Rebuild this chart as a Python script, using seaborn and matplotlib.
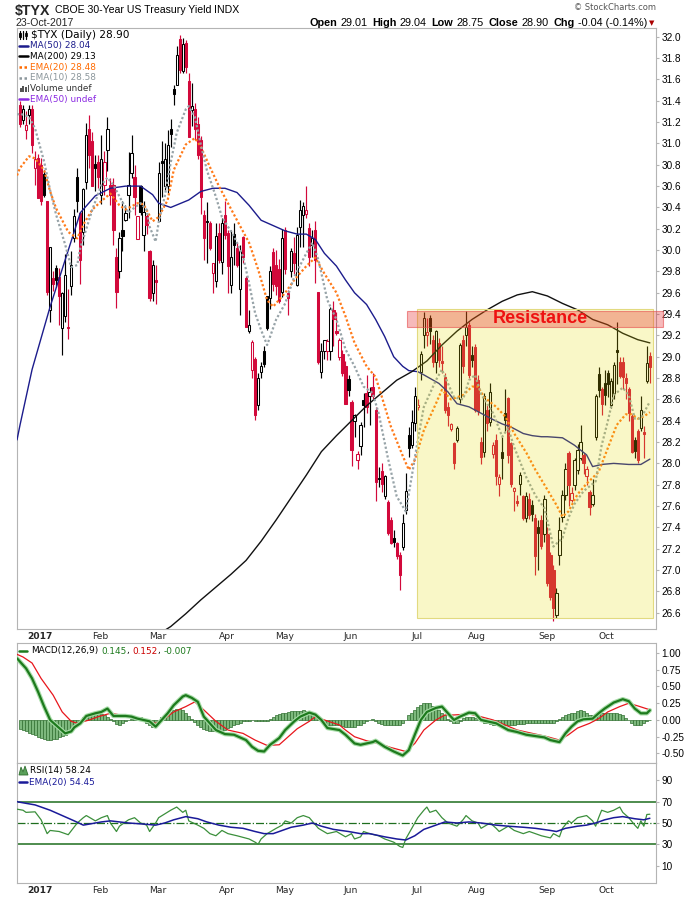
import numpy as np
import pandas as pd
import matplotlib
matplotlib.use("Agg")
import matplotlib.pyplot as plt
from matplotlib.lines import Line2D
from matplotlib.patches import Rectangle, Polygon
import seaborn as sns

# ---------------- data ----------------
holidays = ['2016-12-26', '2017-01-02', '2017-01-16', '2017-02-20', '2017-04-14',
            '2017-05-29', '2017-07-04', '2017-09-04']
dates = pd.bdate_range('2016-12-22', '2017-10-23', freq='C', holidays=holidays)

opens = [31.36, 31.22, 31.13, 31.27, 31.32, 30.77, 30.86, 30.80, 30.71, 30.46,
         29.44, 29.74, 29.83, 29.75, 29.27, 29.38, 29.28, 29.66, 30.11, 30.69,
         30.35, 30.17, 30.64, 31.14, 31.02, 30.81, 30.83, 30.52, 30.61, 30.94,
         30.61, 30.61, 29.94, 29.80, 30.19, 30.28, 30.52, 30.72, 30.69, 30.10,
         30.60, 30.14, 30.32, 29.99, 29.60, 29.72, 30.27, 30.83, 30.60, 30.60,
         31.14, 31.51, 31.55, 31.98, 31.68, 31.94, 31.59, 31.31, 31.32, 31.18,
         31.03, 30.33, 30.27, 30.25, 29.79, 29.71, 30.16, 29.89, 30.33, 30.16,
         29.67, 30.15, 30.02, 29.64, 30.12, 29.74, 29.24, 28.88, 28.98, 28.55,
         28.86, 29.05, 29.57, 29.55, 29.98, 29.86, 29.82, 29.61, 30.19, 29.60,
         29.80, 29.97, 29.67, 30.22, 30.33, 30.34, 30.21, 30.05, 30.19, 29.61,
         28.86, 29.05, 29.05, 29.05, 29.44, 29.24, 29.00, 29.03, 28.91, 28.79,
         28.58, 28.40, 28.03, 28.16, 28.59, 28.66, 28.63, 28.72, 28.50, 27.86,
         27.93, 27.69, 27.64, 27.47, 27.30, 27.25, 27.14, 27.22, 27.56, 28.27,
         28.17, 28.38, 28.53, 28.86, 29.20, 29.20, 29.36, 29.16, 28.95, 29.13,
         28.96, 28.81, 28.53, 28.32, 28.19, 28.22, 28.60, 29.16, 29.20, 29.30,
         29.02, 29.09, 28.78, 28.20, 28.11, 28.50, 28.39, 28.09, 28.22, 27.81,
         28.11, 28.47, 28.61, 28.19, 27.74, 27.65, 27.81, 27.69, 27.49, 27.67,
         27.61, 27.49, 27.40, 27.47, 27.34, 27.34, 27.14, 27.00, 26.58, 27.14,
         27.50, 27.70, 28.10, 27.66, 27.80, 27.94, 28.05, 28.08, 27.88, 27.73,
         27.62, 28.25, 28.84, 28.70, 28.75, 28.85, 28.55, 28.66, 29.06, 28.95,
         28.95, 28.80, 28.70, 28.44, 28.22, 28.30, 28.33, 28.29, 28.77, 29.01]
highs = [31.40, 31.36, 31.30, 31.36, 31.36, 30.93, 30.90, 30.86, 30.75, 30.46,
         30.03, 29.80, 29.86, 29.83, 29.61, 29.96, 29.64, 29.99, 30.39, 30.77,
         30.36, 30.58, 31.19, 31.27, 31.11, 30.89, 30.89, 31.08, 30.93, 31.25,
         30.68, 30.68, 30.02, 30.17, 30.46, 30.42, 30.92, 31.08, 30.80, 30.32,
         30.61, 30.46, 30.34, 30.00, 29.91, 29.86, 30.83, 31.02, 31.00, 31.13,
         31.23, 31.55, 31.91, 32.02, 31.99, 31.97, 31.66, 31.57, 31.38, 31.25,
         31.07, 30.38, 30.45, 30.27, 29.88, 30.25, 30.25, 30.30, 30.46, 30.19,
         30.19, 30.25, 30.08, 30.05, 30.13, 29.76, 29.44, 29.16, 29.00, 28.85,
         28.95, 29.10, 29.57, 29.85, 30.02, 30.00, 29.92, 30.20, 30.22, 29.63,
         30.02, 30.12, 30.22, 30.47, 30.45, 30.60, 30.25, 30.19, 30.27, 29.61,
         29.13, 29.16, 29.17, 29.47, 29.52, 29.42, 29.18, 29.06, 28.96, 28.83,
         28.59, 28.46, 28.12, 28.39, 28.66, 28.83, 28.72, 28.85, 28.53, 27.97,
         28.00, 27.89, 27.66, 27.50, 27.38, 27.26, 27.17, 27.53, 27.91, 28.34,
         28.50, 28.72, 28.60, 29.05, 29.42, 29.36, 29.39, 29.20, 29.25, 29.18,
         29.10, 28.85, 28.58, 28.38, 28.20, 28.35, 29.13, 29.20, 29.43, 29.33,
         29.10, 29.12, 28.83, 28.25, 28.66, 28.55, 28.75, 28.20, 28.28, 27.90,
         28.25, 28.70, 28.62, 28.20, 27.78, 27.70, 27.92, 27.70, 27.73, 27.72,
         27.66, 27.53, 27.47, 27.52, 27.70, 27.40, 27.17, 27.05, 26.83, 27.50,
         27.75, 28.00, 28.12, 27.78, 28.05, 28.18, 28.36, 28.10, 27.98, 27.75,
         27.85, 28.65, 28.90, 28.72, 28.88, 28.88, 28.80, 28.95, 29.33, 29.00,
         29.00, 28.85, 28.72, 28.46, 28.25, 28.32, 28.63, 28.35, 29.10, 29.04]
lows = [31.15, 31.18, 31.04, 31.18, 30.91, 30.61, 30.49, 30.42, 30.50, 29.58,
        29.33, 29.62, 29.65, 29.30, 29.02, 29.33, 29.17, 29.58, 30.08, 30.36,
        29.68, 30.05, 30.57, 30.77, 30.60, 30.55, 30.58, 30.43, 30.52, 30.74,
        30.42, 30.05, 29.46, 29.74, 29.99, 30.27, 30.30, 30.68, 30.33, 30.10,
        30.33, 29.99, 30.15, 29.52, 29.52, 29.49, 30.27, 30.50, 30.56, 30.54,
        30.97, 31.36, 31.55, 31.66, 31.66, 31.66, 31.06, 31.16, 31.03, 30.85,
        30.34, 29.91, 29.88, 30.00, 29.60, 29.65, 29.88, 29.78, 30.10, 29.60,
        29.60, 29.86, 29.84, 29.39, 29.88, 29.28, 29.22, 28.80, 28.41, 28.50,
        28.80, 28.90, 29.25, 29.45, 29.62, 29.58, 29.50, 29.56, 29.78, 29.39,
        29.75, 29.78, 29.66, 30.03, 30.03, 30.30, 29.85, 29.94, 29.69, 28.93,
        28.80, 28.98, 28.97, 28.97, 29.10, 29.20, 28.97, 28.82, 28.56, 28.63,
        27.98, 28.25, 27.95, 28.08, 28.34, 28.47, 28.36, 28.60, 27.65, 27.78,
        27.73, 27.67, 27.33, 27.24, 27.22, 27.10, 26.81, 27.19, 27.53, 28.06,
        28.14, 28.30, 28.50, 28.78, 29.08, 29.10, 29.12, 28.90, 28.85, 28.90,
        28.85, 28.47, 28.35, 28.30, 27.95, 28.20, 28.57, 28.85, 29.10, 28.80,
        28.90, 28.48, 28.45, 27.99, 28.06, 28.30, 28.35, 28.05, 27.80, 27.69,
        27.85, 28.30, 28.00, 27.78, 27.55, 27.60, 27.70, 27.47, 27.45, 27.48,
        27.46, 26.95, 27.00, 27.20, 27.26, 26.85, 26.72, 26.52, 26.55, 27.05,
        27.45, 27.66, 27.60, 27.64, 27.75, 27.90, 28.03, 27.90, 27.80, 27.52,
        27.60, 28.22, 28.62, 28.45, 28.55, 28.62, 28.52, 28.60, 28.74, 28.80,
        28.70, 28.60, 28.40, 28.10, 28.05, 28.00, 28.30, 28.05, 28.75, 28.75]
closes = [31.18, 31.32, 31.17, 31.32, 30.99, 30.85, 30.49, 30.46, 30.52, 29.61,
          30.03, 29.68, 29.72, 29.57, 29.60, 29.77, 29.27, 29.86, 30.32, 30.46,
          29.91, 30.57, 31.08, 30.89, 30.60, 30.77, 30.69, 30.85, 30.83, 31.14,
          30.52, 30.19, 29.61, 30.11, 30.13, 30.35, 30.61, 30.91, 30.50, 30.32,
          30.36, 30.36, 30.24, 29.55, 29.86, 29.70, 30.72, 30.82, 30.85, 30.99,
          31.09, 31.46, 31.83, 31.69, 31.93, 31.72, 31.06, 31.35, 31.14, 30.89,
          30.50, 30.11, 30.26, 30.02, 29.88, 30.13, 29.91, 30.25, 30.14, 29.85,
          29.94, 30.05, 29.86, 29.99, 29.94, 29.28, 29.30, 29.14, 28.45, 28.80,
          28.91, 28.93, 29.27, 29.80, 29.68, 29.66, 29.52, 30.11, 29.82, 29.55,
          29.99, 29.88, 30.14, 30.38, 30.41, 30.38, 29.94, 30.11, 29.91, 28.95,
          29.05, 29.16, 29.15, 29.45, 29.35, 29.22, 29.16, 28.85, 28.56, 28.69,
          28.13, 28.45, 28.09, 28.36, 28.55, 28.53, 28.67, 28.63, 27.83, 27.85,
          27.81, 27.88, 27.35, 27.25, 27.26, 27.13, 26.95, 27.44, 27.74, 28.14,
          28.39, 28.63, 28.55, 29.03, 29.36, 29.23, 29.24, 28.95, 29.24, 28.97,
          28.94, 28.50, 28.45, 28.37, 28.00, 28.33, 29.11, 28.91, 29.28, 28.83,
          28.97, 28.50, 28.49, 28.06, 28.63, 28.38, 28.67, 28.17, 27.88, 27.87,
          28.05, 28.41, 28.08, 27.81, 27.77, 27.63, 27.89, 27.49, 27.69, 27.52,
          27.53, 27.13, 27.35, 27.23, 27.67, 26.88, 26.75, 26.64, 26.78, 27.38,
          27.70, 27.95, 27.80, 27.72, 28.03, 28.13, 28.20, 28.00, 27.95, 27.59,
          27.70, 28.63, 28.69, 28.56, 28.64, 28.74, 28.77, 28.92, 29.04, 28.82,
          28.81, 28.75, 28.47, 28.11, 28.12, 28.03, 28.50, 28.28, 28.94, 28.90]

# overlay lines, read at points (x = bar number)
ma50_idx = [-1, 0, 4, 10, 15, 20, 25, 30, 35, 40, 44, 46, 50, 56, 60, 64, 68, 72, 76, 80,
            84, 88, 92, 95, 98, 101, 105, 108, 111, 115, 118, 121, 124, 127, 129, 132,
            134, 139, 142, 145, 149, 153, 157, 160, 163, 167, 170, 173, 175, 180, 184,
            188, 190, 193, 197, 202, 206, 209]
ma50_val = [28.22, 28.36, 28.88, 29.47, 29.91, 30.35, 30.51, 30.58, 30.60, 30.60, 30.52,
            30.44, 30.40, 30.47, 30.55, 30.58, 30.58, 30.54, 30.42, 30.28, 30.23, 30.18,
            30.15, 30.15, 30.10, 29.97, 29.85, 29.72, 29.60, 29.49, 29.35, 29.19, 29.00,
            28.91, 28.87, 28.86, 28.83, 28.75, 28.67, 28.56, 28.53, 28.47, 28.41, 28.37,
            28.34, 28.28, 28.26, 28.25, 28.25, 28.24, 28.17, 28.08, 27.97, 27.99, 28.00,
            27.99, 27.99, 28.04]
ma200_idx = [45, 50, 55, 60, 65, 70, 75, 80, 85, 90, 95, 100, 105, 110, 115, 120, 125,
             130, 135, 140, 145, 150, 155, 160, 165, 170, 175, 180, 185, 190, 195, 200,
             205, 209]
ma200_val = [26.38, 26.47, 26.59, 26.72, 26.84, 26.96, 27.09, 27.27, 27.47, 27.68, 27.89,
             28.11, 28.26, 28.40, 28.54, 28.66, 28.78, 28.86, 28.96, 29.11, 29.24, 29.35,
             29.44, 29.52, 29.58, 29.61, 29.57, 29.50, 29.44, 29.35, 29.30, 29.22, 29.16,
             29.13]
ema20_idx = [-1, 0, 3, 5, 8, 10, 12, 16, 19, 21, 24, 27, 30, 33, 35, 39, 41, 44, 46, 49,
             51, 55, 58, 60, 63, 66, 69, 72, 76, 79, 82, 84, 88, 91, 95, 98, 101, 105, 108,
             111, 115, 118, 120, 123, 127, 129, 131, 134, 138, 140, 143, 147, 150, 152,
             154, 158, 161, 164, 168, 171, 174, 178, 180, 182, 185, 188, 192, 195, 198,
             201, 203, 205, 207, 209]
ema20_val = [30.70, 30.77, 30.88, 30.86, 30.75, 30.55, 30.39, 30.17, 30.11, 30.24, 30.38,
             30.46, 30.53, 30.42, 30.38, 30.44, 30.43, 30.27, 30.31, 30.47, 30.75, 30.99,
             31.05, 30.97, 30.78, 30.60, 30.44, 30.28, 30.07, 29.82, 29.53, 29.47, 29.60,
             29.72, 29.85, 29.93, 29.78, 29.60, 29.38, 29.13, 28.91, 28.81, 28.63, 28.35,
             28.07, 27.94, 28.03, 28.31, 28.56, 28.69, 28.60, 28.64, 28.72, 28.72, 28.62,
             28.53, 28.44, 28.28, 28.10, 27.94, 27.80, 27.61, 27.50, 27.55, 27.71, 27.81,
             27.92, 28.14, 28.36, 28.46, 28.46, 28.42, 28.44, 28.48]
ema10_idx = [-1, 0, 3, 5, 8, 10, 12, 15, 17, 19, 20, 24, 27, 29, 31, 34, 36, 38, 40, 42,
             43, 45, 46, 48, 50, 52, 55, 56, 58, 60, 62, 65, 67, 69, 71, 74, 76, 78, 80,
             82, 85, 88, 91, 95, 97, 99, 102, 105, 108, 111, 114, 117, 119, 122, 125, 128,
             130, 132, 134, 138, 140, 142, 144, 147, 149, 151, 153, 157, 160, 162, 164,
             168, 171, 174, 177, 180, 182, 184, 187, 191, 193, 195, 197, 200, 202, 204,
             206, 209]
ema10_val = [31.27, 31.28, 31.25, 31.14, 30.83, 30.56, 30.33, 30.05, 29.84, 29.86, 30.02,
             30.38, 30.61, 30.68, 30.61, 30.45, 30.35, 30.40, 30.44, 30.38, 30.22, 30.08,
             30.26, 30.50, 30.82, 31.10, 31.32, 31.35, 31.25, 30.99, 30.75, 30.50, 30.31,
             30.22, 30.13, 29.94, 29.69, 29.41, 29.25, 29.11, 29.35, 29.50, 29.75, 29.97,
             30.07, 29.91, 29.53, 29.35, 29.07, 28.91, 28.72, 28.66, 28.47, 28.06, 27.69,
             27.55, 27.88, 28.22, 28.53, 28.78, 28.88, 28.75, 28.62, 28.60, 28.78, 28.83,
             28.65, 28.47, 28.25, 28.33, 28.15, 27.87, 27.70, 27.58, 27.22, 27.30, 27.49,
             27.62, 27.74, 27.83, 28.17, 28.39, 28.64, 28.71, 28.64, 28.42, 28.42, 28.58]

# MACD(12,26,9)
macd_idx = [-1, 2, 4, 6, 8, 10, 13, 15, 17, 18, 20, 22, 25, 27, 29, 31, 35, 37, 39, 43,
            45, 47, 49, 51, 54, 55, 57, 59, 61, 65, 68, 71, 75, 77, 79, 81, 83, 86, 88, 91,
            93, 96, 98, 100, 102, 106, 108, 111, 113, 117, 118, 121, 124, 127, 129, 131,
            133, 135, 138, 140, 142, 144, 146, 149, 151, 153, 155, 158, 160, 162, 165, 168,
            171, 174, 176, 179, 181, 183, 185, 187, 190, 192, 194, 197, 200, 202, 204, 206,
            208, 209]
macd_val = [0.92, 0.77, 0.62, 0.42, 0.20, 0.00, -0.12, -0.20, -0.17, -0.11, -0.05, 0.06,
            0.10, 0.12, 0.17, 0.06, 0.06, 0.05, 0.02, -0.02, -0.10, 0.00, 0.10, 0.22, 0.35,
            0.37, 0.33, 0.27, 0.05, -0.15, -0.21, -0.22, -0.30, -0.40, -0.46, -0.47, -0.37,
            -0.27, -0.15, -0.02, 0.05, 0.11, 0.08, 0.00, -0.12, -0.15, -0.22, -0.35, -0.37,
            -0.33, -0.31, -0.40, -0.47, -0.53, -0.45, -0.22, 0.00, 0.12, 0.18, 0.20, 0.10,
            0.00, 0.05, 0.11, 0.10, 0.00, -0.02, -0.05, -0.10, -0.15, -0.18, -0.22, -0.24,
            -0.26, -0.30, -0.33, -0.20, -0.10, -0.02, 0.01, 0.02, 0.10, 0.17, 0.26, 0.31,
            0.28, 0.17, 0.10, 0.10, 0.145]
sig_idx = [-1, 1, 4, 7, 11, 14, 17, 19, 23, 26, 30, 34, 37, 40, 45, 48, 51, 55, 58, 61,
           65, 69, 74, 78, 82, 86, 89, 92, 96, 98, 101, 106, 108, 111, 115, 119, 123, 128,
           131, 134, 138, 141, 144, 149, 152, 157, 161, 165, 171, 175, 179, 182, 185, 189,
           192, 195, 199, 202, 205, 209]
sig_val = [0.98, 0.94, 0.85, 0.62, 0.37, 0.12, -0.02, -0.05, 0.00, 0.05, 0.10, 0.07, 0.05,
           0.02, -0.05, 0.02, 0.12, 0.20, 0.27, 0.15, -0.02, -0.15, -0.20, -0.30, -0.38,
           -0.37, -0.25, -0.13, -0.02, 0.05, 0.00, -0.075, -0.15, -0.25, -0.31, -0.35, -0.41,
           -0.47, -0.35, -0.15, 0.00, 0.075, 0.075, 0.09, 0.06, 0.00, -0.075, -0.15, -0.21,
           -0.25, -0.30, -0.22, -0.12, -0.05, 0.02, 0.12, 0.20, 0.25, 0.21, 0.152]
hist = [-0.13, -0.15, -0.17, -0.19, -0.21, -0.23, -0.25, -0.27, -0.29, -0.30,
        -0.30, -0.29, -0.28, -0.26, -0.24, -0.22, -0.17, -0.12, -0.07, -0.03,
        0.00, 0.05, 0.08, 0.10, 0.11, 0.11, 0.11, 0.09, 0.07, 0.05,
        0.02, -0.02, -0.06, -0.07, -0.05, -0.02, 0.00, 0.02, 0.04, 0.05,
        0.04, 0.02, -0.04, -0.07, -0.10, -0.05, 0.00, 0.05, 0.08, 0.10,
        0.12, 0.15, 0.16, 0.17, 0.15, 0.10, 0.06, 0.02, -0.03, -0.07,
        -0.10, -0.13, -0.15, -0.16, -0.17, -0.17, -0.17, -0.16, -0.15, -0.12,
        -0.10, -0.08, -0.06, -0.04, -0.02, -0.01, -0.01, 0.00, -0.01, -0.01,
        -0.01, -0.02, -0.02, 0.01, 0.05, 0.07, 0.09, 0.10, 0.11, 0.12,
        0.13, 0.13, 0.13, 0.14, 0.15, 0.14, 0.12, 0.09, 0.05, 0.01,
        -0.02, -0.04, -0.07, -0.08, -0.08, -0.07, -0.07, -0.09, -0.11, -0.11,
        -0.10, -0.10, -0.08, -0.07, -0.05, -0.02, 0.00, 0.01, -0.02, -0.05,
        -0.06, -0.07, -0.08, -0.08, -0.08, -0.08, -0.07, -0.05, 0.00, 0.07,
        0.11, 0.15, 0.19, 0.22, 0.25, 0.25, 0.25, 0.21, 0.18, 0.15,
        0.10, 0.07, 0.02, -0.02, -0.05, -0.04, -0.02, 0.03, 0.05, 0.05,
        0.04, 0.03, 0.00, -0.02, -0.04, -0.05, -0.06, -0.07, -0.07, -0.07,
        -0.08, -0.08, -0.08, -0.07, -0.07, -0.06, -0.06, -0.06, -0.05, -0.05,
        -0.05, -0.05, -0.04, -0.04, -0.04, -0.04, -0.04, -0.05, -0.02, 0.01,
        0.04, 0.07, 0.09, 0.10, 0.11, 0.13, 0.15, 0.13, 0.11, 0.08,
        0.07, 0.09, 0.10, 0.11, 0.11, 0.11, 0.11, 0.11, 0.11, 0.09,
        0.07, 0.03, 0.00, -0.04, -0.07, -0.08, -0.07, -0.05, -0.02, -0.007]

# RSI(14) and its EMA(20)
rsi_idx = [-1, 1, 2, 5, 7, 9, 10, 13, 16, 19, 21, 22, 25, 27, 29, 30, 32, 33, 36, 38,
           40, 42, 43, 45, 46, 50, 52, 54, 55, 56, 59, 61, 63, 65, 67, 69, 72, 76, 78, 79,
           80, 82, 85, 87, 88, 90, 92, 94, 96, 99, 102, 105, 108, 110, 111, 113, 114, 116,
           119, 121, 124, 126, 127, 128, 130, 132, 134, 135, 136, 138, 140, 142, 145, 147,
           148, 150, 152, 153, 156, 158, 159, 162, 164, 167, 169, 171, 173, 176, 177, 179,
           180, 182, 183, 185, 188, 190, 191, 192, 193, 195, 197, 199, 200, 202, 204, 205,
           206, 207, 208, 209]
rsi_val = [63, 62, 60, 60.5, 53, 40, 43, 42, 39, 50, 55, 57, 52, 55, 57, 50, 42, 47, 53, 55,
           50, 48, 42, 50, 55, 62, 65, 60, 62, 52, 48, 45, 40, 38, 43, 40, 38, 35, 32, 30,
           35, 40, 45, 48, 52, 50, 55, 57, 55, 45, 40, 42, 37, 40, 35, 37, 42, 40, 38, 35,
           32, 28, 27, 35, 45, 55, 62, 65, 60, 62, 55, 50, 47, 53, 57, 52, 50, 45, 50, 45,
           42, 47, 43, 40, 42, 40, 38, 36, 40, 37, 45, 52, 50, 55, 57, 52, 47, 55, 62, 60,
           62, 65, 60, 55, 48, 45, 52, 47, 58, 58.24]
rsi_ema_idx = [-1, 5, 10, 14, 18, 21, 23, 27, 30, 33, 36, 41, 45, 48, 51, 55, 59, 62, 66,
               70, 74, 78, 81, 84, 87, 90, 94, 97, 100, 104, 109, 113, 116, 121, 125, 128,
               131, 134, 138, 141, 145, 149, 153, 158, 162, 167, 171, 176, 178, 181, 185,
               188, 191, 194, 197, 200, 204, 207, 209]
rsi_ema_val = [70, 67, 62, 57, 52, 48, 49, 51, 52, 51, 50, 49, 48, 50, 53, 56, 54, 51, 48,
               46, 45, 42, 40, 40, 43, 46, 48, 50, 47, 44, 42, 40, 40, 37, 35, 34, 38, 44,
               48, 51, 50, 51, 50, 48, 47, 46, 45, 43, 42, 45, 47, 48, 50, 53, 55, 56, 54,
               53, 54.45]

# shaded zones
zone_start, zone_end, zone_lo, zone_hi = 131.7, 210.0, 26.55, 29.45
res_start, res_lo, res_hi = 128.4, 29.28, 29.43

# ---------------- figure ----------------
sns.set_style("white")
plt.rcParams['font.family'] = ['DejaVu Sans']

W, H = 700, 900
fig = plt.figure(figsize=(7, 9), dpi=100)


def fax(l, t, r, b):
    return fig.add_axes([l / W, 1 - b / H, (r - l) / W, (b - t) / H])


L, R = 16.7, 656.5
ax = fax(L, 28.3, R, 629)
axm = fax(L, 643, R, 763)
axr = fax(L, 763, R, 883)

RED = '#d2093b'
GRID = '#b4b4b4'
XMIN, XMAX = -1.1, 211.2

o, h, l, c = map(np.array, (opens, highs, lows, closes))
x = np.arange(len(c))
prev = np.r_[c[0] + 1, c[:-1]]
col = np.where(c >= prev, '#000000', RED)
filled = c < o
face = [cc if f else 'white' for cc, f in zip(col, filled)]

ax.vlines(x, l, h, colors=col, lw=0.85, zorder=2)
ax.bar(x, np.maximum(np.abs(c - o), 0.012), bottom=np.minimum(o, c), width=0.74,
       color=face, edgecolor=col, linewidth=0.75, zorder=3)

sns.lineplot(x=ma50_idx, y=ma50_val, ax=ax, color='#1c1c8c', lw=1.0, errorbar=None, zorder=4)
sns.lineplot(x=ma200_idx, y=ma200_val, ax=ax, color='#111111', lw=1.0, errorbar=None, zorder=4)
sns.lineplot(x=ema20_idx, y=ema20_val, ax=ax, color='#ff7a1a', lw=1.6,
             linestyle=(0, (1, 1)), errorbar=None, zorder=4)
sns.lineplot(x=ema10_idx, y=ema10_val, ax=ax, color='#97a3a8', lw=1.6,
             linestyle=(0, (1, 1)), errorbar=None, zorder=4)

ax.add_patch(Rectangle((zone_start, zone_lo), zone_end - zone_start, zone_hi - zone_lo,
                       facecolor=(0.906, 0.87, 0.0, 0.22), edgecolor='#e2da80', lw=0.8,
                       zorder=5))
ax.add_patch(Rectangle((res_start, res_lo), 213.5 - res_start, res_hi - res_lo,
                       facecolor=(0.89, 0.1, 0.11, 0.30), edgecolor=(0.9, 0.3, 0.3, 0.6),
                       lw=0.8, zorder=6, clip_on=False))
ax.text(172.5, 29.36, 'Resistance', color='#ee1111', fontsize=13, fontweight='bold',
        family=['Liberation Sans', 'DejaVu Sans'], ha='center', va='center', zorder=7)

ax.set_xlim(XMIN, XMAX)
ax.set_ylim(26.447, 32.08)
ax.set_yticks(np.round(np.arange(26.6, 32.01, 0.2), 1))
ax.set_yticklabels(['%.1f' % v for v in np.arange(26.6, 32.01, 0.2)])

# MACD
axm.bar(x, hist, width=1.0, color='#7db87d', edgecolor='#2f6f2f', linewidth=0.5, zorder=2)
sns.lineplot(x=sig_idx, y=sig_val, ax=axm, color='#e8161c', lw=0.9, errorbar=None, zorder=3)
sns.lineplot(x=macd_idx, y=macd_val, ax=axm, color='#a8dca8', lw=3.2, errorbar=None, zorder=4)
sns.lineplot(x=macd_idx, y=macd_val, ax=axm, color='#1d7a1d', lw=1.6, errorbar=None, zorder=5)
axm.set_xlim(XMIN, XMAX)
axm.set_ylim(-0.642, 1.149)
mt = [1.0, 0.75, 0.5, 0.25, 0.0, -0.25, -0.5]
axm.set_yticks(mt)
axm.set_yticklabels(['%.2f' % v for v in mt])

# RSI
axr.axhline(70, color='#1e6e1e', lw=1.1, zorder=1)
axr.axhline(30, color='#1e6e1e', lw=1.1, zorder=1)
axr.axhline(50, color='#1e6e1e', lw=0.9, ls='-.', zorder=1)
sns.lineplot(x=rsi_idx, y=rsi_val, ax=axr, color='#3b8f3b', lw=0.9, errorbar=None, zorder=3)
sns.lineplot(x=rsi_ema_idx, y=rsi_ema_val, ax=axr, color='#1a1a99', lw=1.1, errorbar=None,
             zorder=4)
axr.set_xlim(XMIN, XMAX)
axr.set_ylim(-6.4, 106.4)
axr.set_yticks([10, 30, 50, 70, 90])

# month labels
month_pos, month_lab = [], []
for i in range(1, len(dates)):
    if dates[i].month != dates[i - 1].month:
        month_pos.append(i + 0.7)
        month_lab.append('2017' if dates[i].month == 1 else dates[i].strftime('%b'))

for a in (ax, axm, axr):
    a.set_xlabel('')
    a.set_ylabel('')
    a.yaxis.tick_right()
    a.tick_params(axis='y', length=2, pad=1.5, labelsize=7.2, colors='#000000')
    for t in a.get_yticklabels():
        t.set_family(['Liberation Sans', 'DejaVu Sans'])
    for s in a.spines.values():
        s.set_color(GRID)
        s.set_linewidth(0.8)
    a.tick_params(axis='y', color=GRID)

for a in (ax, axr):
    a.set_xticks(month_pos)
    a.set_xticklabels(month_lab)
    a.tick_params(axis='x', length=0, pad=2, labelsize=6.6)
    for t in a.get_xticklabels():
        if t.get_text() == '2017':
            t.set_fontweight('bold')
axm.set_xticks([])
ax.spines['bottom'].set_linestyle((0, (1, 1)))
axm.spines['top'].set_linestyle((0, (1, 1)))
axr.spines['bottom'].set_linestyle((0, (1, 1)))

# ---------------- texts ----------------
renderer = fig.canvas.get_renderer()


def seq_text(x0, y0, pieces, size, family, align='left'):
    xs = x0
    arts = []
    for txt, colr, wt, gap in pieces:
        a = fig.text(xs / W, 1 - y0 / H, txt, color=colr, fontweight=wt, fontsize=size,
                     family=family, va='center', ha='left')
        xs += a.get_window_extent(renderer=renderer).width + gap
        arts.append(a)
    if align == 'right':
        shift = xs - x0
        for a in arts:
            px, py = a.get_position()
            a.set_position((px - shift / W, py))


def ftext(px, py, s, **kw):
    return fig.text(px / W, 1 - py / H, s, va='center', **kw)


def fline(x0, x1, y, **kw):
    fig.add_artist(Line2D([x0 / W, x1 / W], [1 - y / H, 1 - y / H],
                          transform=fig.transFigure, **kw))


LIB = ['Liberation Sans', 'DejaVu Sans']
ftext(15, 10.5, '$TYX', fontsize=10.2, fontweight='bold', family=LIB)
seq_text(55, 10, [('CBOE 30-Year US Treasury Yield', '#000000', 'normal', 3),
                  ('INDX', '#000000', 'normal', 0)], 7.6, LIB)
ftext(16, 23, '23-Oct-2017', fontsize=7.6, family=LIB)
ftext(656, 8, '\u00a9 StockCharts.com', fontsize=6, color='#555555', ha='right',
      family=['DejaVu Sans'])
seq_text(647, 23, [('Open', '#000', 'bold', 3), ('29.01', '#000', 'normal', 5),
                   ('High', '#000', 'bold', 3), ('29.04', '#000', 'normal', 5),
                   ('Low', '#000', 'bold', 3), ('28.75', '#000', 'normal', 5),
                   ('Close', '#000', 'bold', 3), ('28.90', '#000', 'normal', 5),
                   ('Chg', '#000', 'bold', 3), ('-0.04 (-0.14%)', '#000', 'normal', 0)],
         7.8, LIB, align='right')
ftext(652, 23.5, '\u25bc', fontsize=5, color='#aa0000', ha='center', family=['DejaVu Sans'])

# price legend
leg_y = [35 + 10.7 * k for k in range(7)]
for xx in [20, 23, 26]:
    fig.add_artist(Line2D([xx / W, xx / W], [1 - (leg_y[0] - 4) / H, 1 - (leg_y[0] + 4) / H],
                          transform=fig.transFigure, color='#000', lw=0.9))
fig.add_artist(Rectangle((19.2 / W, 1 - (leg_y[0] + 2) / H), 1.6 / W, 4 / H,
                         transform=fig.transFigure, facecolor='#000', edgecolor='#000', lw=0.6))
fig.add_artist(Rectangle((25.2 / W, 1 - (leg_y[0] + 1) / H), 1.6 / W, 3 / H,
                         transform=fig.transFigure, facecolor='white', edgecolor='#000', lw=0.6))
ftext(31, leg_y[0], '$TYX (Daily) 28.90', fontsize=7.6, color='#000')
legend_items = [('MA(50) 28.04', '#1c1c8c', '-'), ('MA(200) 29.13', '#000000', '-'),
                ('EMA(20) 28.48', '#ff6a00', ':'), ('EMA(10) 28.58', '#8c979c', ':'),
                ('Volume undef', '#333333', 'bars'), ('EMA(50) undef', '#8b2be2', '-')]
for (lab, colr, sty), yy in zip(legend_items, leg_y[1:]):
    if sty == 'bars':
        for xx, hh in zip([20, 22.5, 25, 27.5], [4, 6, 5, 7]):
            fig.add_artist(Rectangle((xx / W, 1 - (yy + 3.5) / H), 1.5 / W, hh / H,
                                     transform=fig.transFigure, facecolor='#555',
                                     edgecolor='#555', lw=0))
    elif sty == ':':
        fline(19, 28, yy, color=colr, lw=1.8, linestyle=(0, (1, 1)))
    else:
        fline(19, 28, yy, color=colr, lw=1.8)
    ftext(29.5, yy, lab, fontsize=6.4, color=colr)

# MACD legend
fline(19, 27, 651, color='#1d7a1d', lw=1.8)
seq_text(31, 651, [('MACD(12,26,9)', '#000', 'normal', 3), ('0.145', '#1d7a1d', 'normal', 0),
                   (',', '#000', 'normal', 3), ('0.152', '#cc0000', 'normal', 0),
                   (',', '#000', 'normal', 3), ('-0.007', '#1d7a1d', 'normal', 0)],
         6.4, ['DejaVu Sans'])

# RSI legend
fig.add_artist(Polygon([(19 / W, 1 - 775 / H), (21 / W, 1 - 767 / H), (23 / W, 1 - 772 / H),
                        (25 / W, 1 - 766 / H), (28 / W, 1 - 775 / H)],
                       closed=True, transform=fig.transFigure, facecolor='#5aa05a',
                       edgecolor='#2f6f2f', lw=0.6))
ftext(30, 771, 'RSI(14) 58.24', fontsize=6.4, color='#000')
fline(19, 27, 782, color='#1a1a99', lw=1.8)
ftext(29, 782, 'EMA(20) 54.45', fontsize=6.4, color='#1a1a99')

fig.savefig('out.png', dpi=100)
